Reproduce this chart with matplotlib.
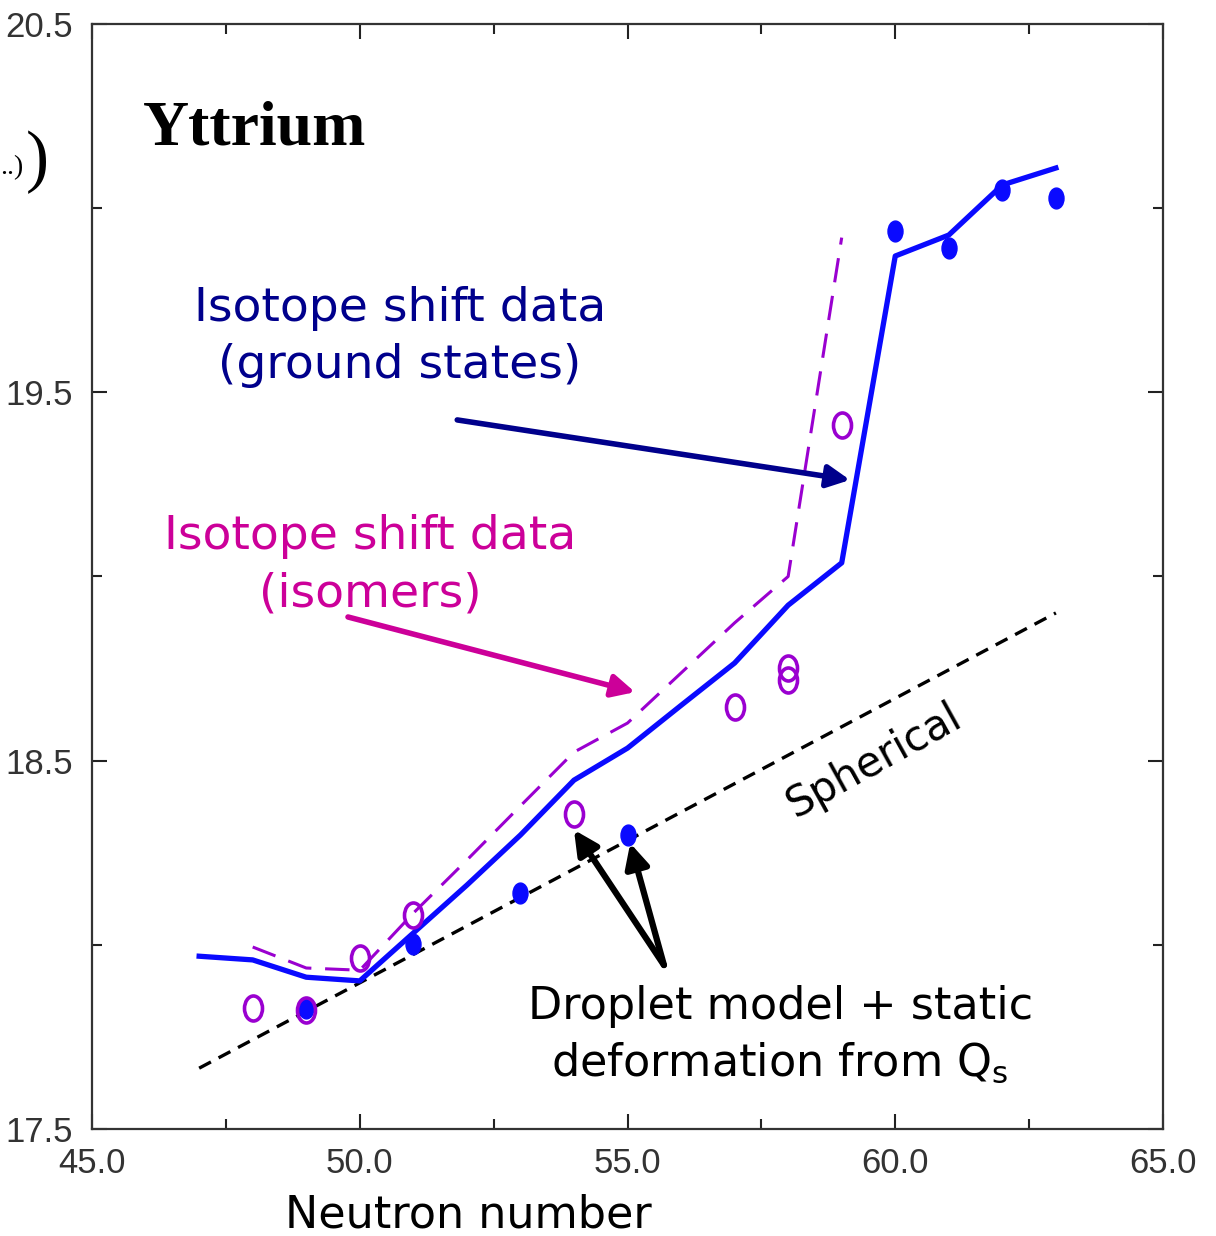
import numpy as np
import matplotlib
matplotlib.use('Agg')
import matplotlib.pyplot as plt
from matplotlib.path import Path
from matplotlib.transforms import Affine2D
from matplotlib.ticker import FixedLocator, FormatStrFormatter

# droplet model + static deformation, ground states (solid blue)
N_gs = [47, 48, 49, 50, 51, 52, 53, 54, 55, 56, 57, 58, 59, 60, 61, 62, 63]
r_gs = [17.969, 17.959, 17.912, 17.902, 18.032, 18.162, 18.298, 18.447, 18.534,
        18.650, 18.765, 18.922, 19.037, 19.870, 19.927, 20.063, 20.109]

# same for isomers (dashed purple)
N_iso = [48, 49, 50, 51, 52, 53, 54, 55, 56, 57, 58, 59]
r_iso = [17.994, 17.937, 17.931, 18.086, 18.230, 18.377, 18.523, 18.602,
         18.738, 18.874, 19.000, 19.920]

# spherical droplet model
N_sph = [47, 63]
r_sph = [17.665, 18.901]

# isotope shift data
N_meas_gs = [49, 51, 53, 55, 60, 61, 62, 63]
r_meas_gs = [17.828, 18.003, 18.140, 18.298, 19.938, 19.892, 20.049, 20.028]
N_meas_iso = [48, 49, 50, 51, 54, 57, 58, 58, 59]
r_meas_iso = [17.828, 17.823, 17.964, 18.081, 18.355, 18.646, 18.751, 18.719, 19.411]

x_major = [45, 50, 55, 60, 65]
x_minor = [47.5, 52.5, 57.5, 62.5]
y_major = [17.5, 18.5, 19.5, 20.5]
y_minor = [18.0, 19.0, 20.0]

blue = '#0a0aff'
purple = '#9a00d0'
navy = '#00008c'
magenta = '#cc0099'
hand = 'DejaVu Sans'

# slightly tall ellipse for the data points
oval = Path.unit_circle().transformed(Affine2D().scale(0.72, 1.0))

fig = plt.figure(figsize=(12.16, 12.36), dpi=100)
ax = fig.add_axes([0.0757, 0.0866, 0.8807, 0.894])

ax.plot(N_sph, r_sph, color='black', lw=2.4, ls=(0, (4, 2.6)))
ax.plot(N_iso, r_iso, color=purple, lw=2.2, ls=(0, (8, 4.5)))
ax.plot(N_gs, r_gs, color=blue, lw=3.8, solid_joinstyle='round')
ax.plot(N_meas_gs, r_meas_gs, ls='none', marker=oval, ms=15, color=blue, mec=blue)
ax.plot(N_meas_iso, r_meas_iso, ls='none', marker=oval, ms=18, mfc='none',
        mec=purple, mew=2.6)

ax.set_xlim(45, 65)
ax.set_ylim(17.5, 20.5)
ax.xaxis.set_major_locator(FixedLocator(x_major))
ax.xaxis.set_minor_locator(FixedLocator(x_minor))
ax.yaxis.set_major_locator(FixedLocator(y_major))
ax.yaxis.set_minor_locator(FixedLocator(y_minor))
ax.xaxis.set_major_formatter(FormatStrFormatter('%.1f'))
ax.yaxis.set_major_formatter(FormatStrFormatter('%.1f'))
ax.tick_params(which='both', direction='in', top=True, right=True,
               width=1.5, color='#222222')
ax.tick_params(which='major', length=11, labelsize=25, labelcolor='#333333',
               labelfontfamily='Liberation Sans')
ax.tick_params(axis='x', which='major', pad=13)
ax.tick_params(axis='y', which='major', pad=14)
ax.tick_params(which='minor', length=7)
for s in ax.spines.values():
    s.set_linewidth(1.6)
    s.set_color('#333333')

ax.text(0.0476, 0.891, 'Yttrium', transform=ax.transAxes, family='Liberation Serif',
        weight='bold', fontsize=46, va='baseline', ha='left')

ax.text(50.75, 19.65, 'Isotope shift data\n(ground states)', color=navy, family=hand,
        fontsize=34, ha='center', va='center', linespacing=1.35)
ax.text(50.19, 19.03, 'Isotope shift data\n(isomers)', color=magenta, family=hand,
        fontsize=34, ha='center', va='center', linespacing=1.35)
ax.text(57.85, 17.755, 'Droplet model + static\ndeformation from Q$_\\mathregular{s}$',
        color='black', family=hand, fontsize=32, ha='center', va='center',
        linespacing=1.35)
ax.text(59.6, 18.5, 'Spherical', color='black', family=hand, fontsize=30,
        rotation=29, rotation_mode='anchor', ha='center', va='center')

ax.annotate('', xy=(59.155, 19.262), xytext=(51.82, 19.425),
            arrowprops=dict(arrowstyle='-|>', color=navy, lw=4, mutation_scale=34,
                            shrinkA=0, shrinkB=0))
ax.annotate('', xy=(55.14, 18.686), xytext=(49.78, 18.89),
            arrowprops=dict(arrowstyle='-|>', color=magenta, lw=4, mutation_scale=34,
                            shrinkA=0, shrinkB=0))
for tip in [(54.0, 18.312), (55.05, 18.276)]:
    ax.annotate('', xy=tip, xytext=(55.68, 17.945),
                arrowprops=dict(arrowstyle='-|>', color='black', lw=4.5,
                                mutation_scale=36, shrinkA=0, shrinkB=0))

fig.text(0.385, 0.017, 'Neutron number', family=hand, fontsize=32,
         ha='center', va='center')

# tail of the y label, cut at the left edge
fig.text(0.0, 1 - 168 / 1236, '..)', family='Liberation Serif', fontsize=20,
         ha='left', va='center')
fig.text(26 / 1216, 1 - 162 / 1236, ')', family='Liberation Serif', fontsize=50,
         ha='left', va='center')

fig.savefig('out.png', dpi=100)
